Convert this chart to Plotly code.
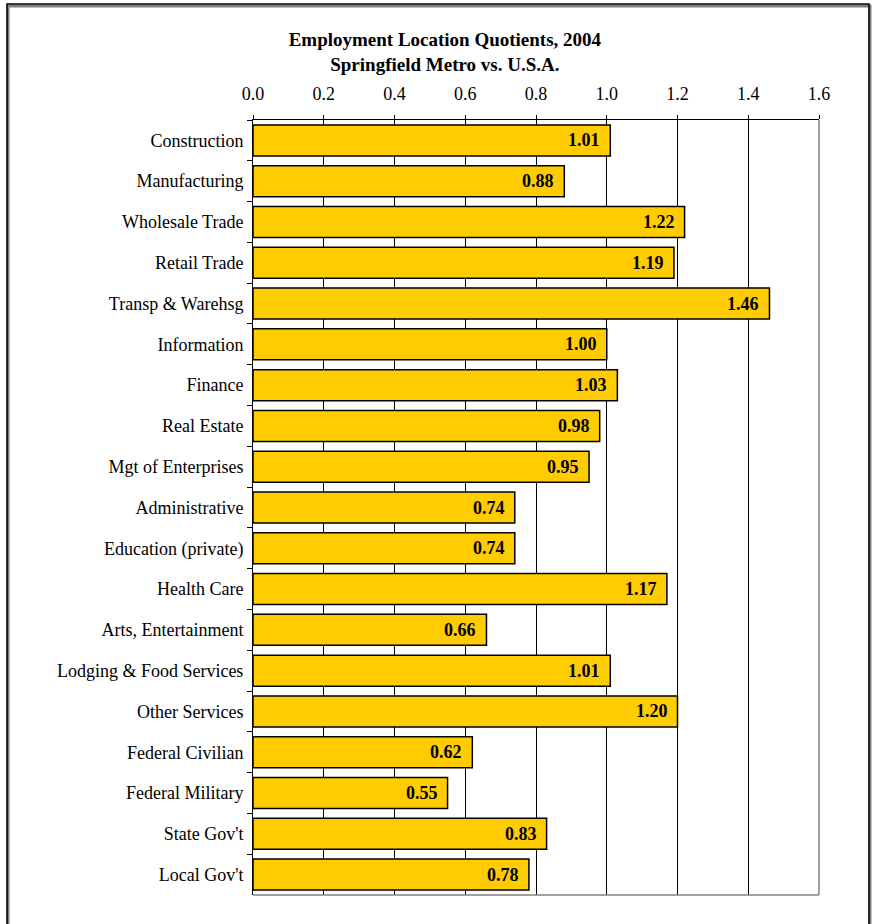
import plotly.graph_objects as go

# Employment location quotients by industry, Springfield Metro vs. U.S.A., 2004
industries = [
    "Construction", "Manufacturing", "Wholesale Trade", "Retail Trade",
    "Transp & Warehsg", "Information", "Finance", "Real Estate",
    "Mgt of Enterprises", "Administrative", "Education (private)",
    "Health Care", "Arts, Entertainment", "Lodging & Food Services",
    "Other Services", "Federal Civilian", "Federal Military",
    "State Gov't", "Local Gov't",
]
quotients = [
    1.01, 0.88, 1.22, 1.19, 1.46, 1.00, 1.03, 0.98, 0.95, 0.74,
    0.74, 1.17, 0.66, 1.01, 1.20, 0.62, 0.55, 0.83, 0.78,
]
x_ticks = [0.0, 0.2, 0.4, 0.6, 0.8, 1.0, 1.2, 1.4, 1.6]

SERIF = "Liberation Serif, Times New Roman, serif"

fig = go.Figure(
    go.Bar(
        x=quotients,
        y=industries,
        orientation="h",
        marker=dict(color="#FFCC00", line=dict(color="#000000", width=1.5)),
        hoverinfo="x+y",
    )
)

# value labels just inside the end of each bar
for name, v in zip(industries, quotients):
    fig.add_annotation(
        x=v, y=name, xref="x", yref="y",
        text=f"<b>{v:.2f}</b>",
        showarrow=False,
        xanchor="right",
        xshift=-8,
        font=dict(family=SERIF, size=18, color="#000000"),
    )

fig.update_layout(
    width=874,
    height=924,
    margin=dict(l=253, r=55, t=120, b=29),
    paper_bgcolor="white",
    plot_bgcolor="white",
    bargap=0.24,
    showlegend=False,
    font=dict(family=SERIF, size=18, color="#000000"),
    title=dict(
        text="<b>Employment Location Quotients, 2004<br>Springfield Metro vs. U.S.A.</b>",
        x=0.509,
        xref="container",
        xanchor="center",
        y=0.95,
        yref="container",
        yanchor="top",
        font=dict(family=SERIF, size=19, color="#000000"),
    ),
    xaxis=dict(
        side="top",
        range=[0, 1.6],
        tickvals=x_ticks,
        ticktext=[f"{t:.1f}" for t in x_ticks],
        showgrid=True,
        gridcolor="#000000",
        gridwidth=1,
        zeroline=False,
        showline=True,
        linecolor="#000000",
        linewidth=1,
        ticks="outside",
        ticklen=4,
        tickcolor="#000000",
        tickfont=dict(family=SERIF, size=18),
        ticklabelstandoff=8,
        fixedrange=True,
    ),
    yaxis=dict(
        autorange="reversed",
        showgrid=False,
        showline=True,
        linecolor="#000000",
        linewidth=1,
        ticks="outside",
        tickson="boundaries",
        ticklen=5,
        tickcolor="#000000",
        tickfont=dict(family=SERIF, size=18),
        ticklabelstandoff=5,
        fixedrange=True,
    ),
)

# gray right and bottom edges of the plotting area
fig.add_shape(type="line", xref="paper", yref="paper", x0=1, x1=1, y0=0, y1=1,
              line=dict(color="#808080", width=1.5))
fig.add_shape(type="line", xref="paper", yref="paper", x0=0, x1=1, y0=0, y1=0,
              line=dict(color="#808080", width=1.5))

# outer chart frame with a slight drop shadow
fig.add_shape(type="rect", xref="paper", yref="paper",
              x0=-0.4328, x1=1.0901, y0=-0.06, y1=1.1471,
              line=dict(color="#7f7f7f", width=3), layer="below")
fig.add_shape(type="rect", xref="paper", yref="paper",
              x0=-0.4346, x1=1.0883, y0=-0.06, y1=1.1497,
              line=dict(color="#000000", width=1.5), layer="below")

fig.write_html("out.html")
